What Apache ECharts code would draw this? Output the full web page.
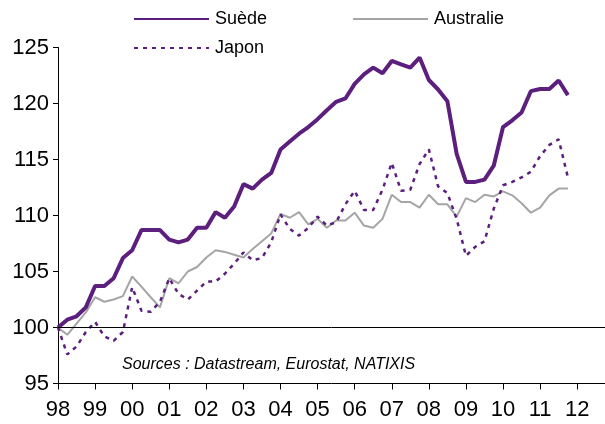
<!DOCTYPE html>
<html>
<head>
<meta charset="utf-8">
<script src="https://cdn.jsdelivr.net/npm/echarts@6/dist/echarts.min.js"></script>
<style>
  html, body { margin: 0; padding: 0; background: #fff; }
  #chart { width: 605px; height: 424px; }
</style>
</head>
<body>
<div id="chart"></div>
<script>
// tick labels (one per year, 4 quarters each)
const years = ["98", "99", "00", "01", "02", "03", "04", "05", "06", "07", "08", "09", "10", "11", "12"];

// quarterly index, 98T1 = 100
const suede = [
  100, 100.7, 101, 101.8, 103.7, 103.7, 104.4, 106.2, 106.9, 108.7,
  108.7, 108.7, 107.85, 107.6, 107.85, 108.9, 108.9, 110.3, 109.8, 110.8,
  112.8, 112.4, 113.2, 113.8, 115.9, 116.6, 117.3, 117.9, 118.6, 119.4,
  120.15, 120.45, 121.75, 122.6, 123.2, 122.7, 123.8, 123.5, 123.2, 124.1,
  122.1, 121.25, 120.2, 115.5, 113, 113, 113.2, 114.45, 117.9, 118.5,
  119.2, 121.1, 121.3, 121.3, 122.05, 120.75
];
const australie = [
  100, 99.35, 100.35, 101.35, 102.7, 102.3, 102.5, 102.8, 104.55, 103.65,
  102.7, 101.8, 104.4, 103.95, 105.0, 105.4, 106.25, 106.9, 106.75, 106.5,
  106.25, 107, 107.7, 108.4, 110.15, 109.8, 110.3, 109.2, 109.7, 108.9,
  109.55, 109.55, 110.25, 109.1, 108.9, 109.7, 111.85, 111.2, 111.2, 110.7,
  111.85, 111, 111, 109.9, 111.55, 111.2, 111.85, 111.7, 112.15, 111.8,
  111.1, 110.25, 110.7, 111.8, 112.4, 112.4
];
const japon = [
  100, 97.6, 98.3, 99.6, 100.5, 99.2, 98.8, 99.6, 103.6, 101.5,
  101.4, 102.3, 104.4, 103.0, 102.5, 103.3, 104.1, 104.1, 104.8, 105.7,
  106.7, 106.0, 106.2, 107.6, 110.1, 108.8, 108.2, 108.9, 109.9, 109.1,
  109.4, 111.0, 112.2, 110.5, 110.5, 112.3, 114.7, 112.2, 112.3, 114.6,
  115.9, 112.6, 112.0, 109.7, 106.4, 107.2, 107.7, 110.6, 112.7, 113.0,
  113.4, 113.9, 115.3, 116.3, 116.8, 113.4
];

const categories = [];
years.forEach(y => {
  for (let q = 1; q <= 4; q++) categories.push(y + " T" + q);
});

const purple = "#5c1f7d";
const grey = "#a5a5a5";
const font = "Liberation Sans, Arial, sans-serif";

const chart = echarts.init(document.getElementById("chart"));

// legend: line only, no marker
const legendBase = {
  left: 133,
  padding: 0,
  itemWidth: 75,
  itemHeight: 14,
  itemStyle: { opacity: 0 },
  textStyle: { fontFamily: font, fontSize: 18, color: "#000", padding: [0, 0, 0, 1] }
};

chart.setOption({
  animation: false,
  grid: { left: 58, right: -4, top: 47.5, bottom: 40.5 },
  legend: [
    Object.assign({}, legendBase, { data: ["Suède", "Australie"], top: 10, itemGap: 85 }),
    Object.assign({}, legendBase, { data: ["Japon"], top: 39 })
  ],
  xAxis: {
    type: "category",
    data: categories,
    boundaryGap: false,
    axisLine: { lineStyle: { color: "#000", width: 1 } },
    axisTick: { interval: 3, length: 6, lineStyle: { color: "#000" } },
    axisLabel: {
      interval: 3,
      margin: 15,
      fontFamily: font,
      fontSize: 22,
      color: "#000",
      formatter: v => v.split(" ")[0]
    },
    splitLine: { show: false }
  },
  yAxis: {
    type: "value",
    min: 95,
    max: 125,
    interval: 5,
    axisLine: { show: true, lineStyle: { color: "#000", width: 1 } },
    axisTick: { show: true, length: 5, lineStyle: { color: "#000" } },
    axisLabel: { margin: 9, fontFamily: font, fontSize: 22, color: "#000" },
    splitLine: { show: false }
  },
  graphic: [
    {
      type: "text",
      left: 122,
      top: 357,
      style: {
        text: "Sources : Datastream, Eurostat, NATIXIS",
        font: "italic 16px Liberation Sans, Arial, sans-serif",
        fill: "#000"
      }
    }
  ],
  series: [
    {
      name: "Australie",
      type: "line",
      data: australie,
      symbol: "none",
      lineStyle: { color: grey, width: 2 },
      itemStyle: { color: grey }
    },
    {
      name: "Japon",
      type: "line",
      data: japon,
      symbol: "none",
      lineStyle: { color: purple, width: 2.5, type: [4, 5] },
      itemStyle: { color: purple }
    },
    {
      name: "Suède",
      type: "line",
      data: suede,
      symbol: "none",
      lineStyle: { color: purple, width: 4 },
      itemStyle: { color: purple },
      markLine: {
        silent: true,
        symbol: "none",
        label: { show: false },
        lineStyle: { color: "#000", width: 1, type: "solid" },
        data: [{ yAxis: 100 }]
      }
    }
  ]
});
</script>
</body>
</html>
